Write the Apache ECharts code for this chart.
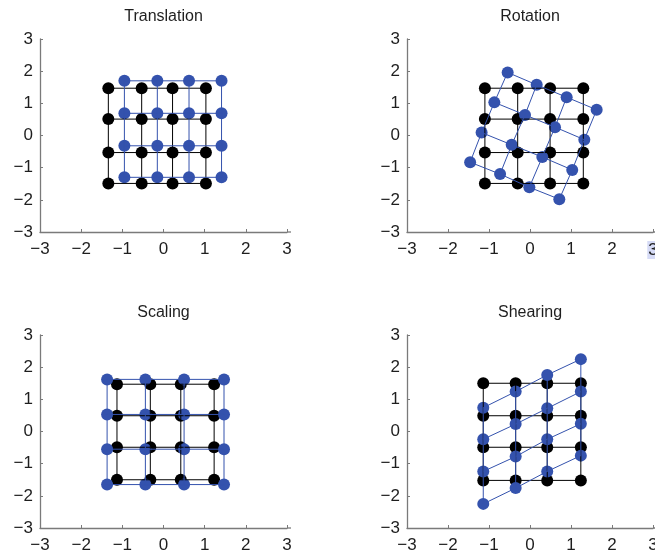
<!DOCTYPE html>
<html>
<head>
<meta charset="utf-8">
<title>2D transformations of a point grid</title>
<script src="https://cdn.jsdelivr.net/npm/echarts@6/dist/echarts.min.js"></script>
<style>
  html, body { margin: 0; padding: 0; background: #fff; }
  #chart { width: 655px; height: 556px; }
</style>
</head>
<body>
<div id="chart"></div>
<script>
// Panel titles
const titles = ['Translation', 'Rotation', 'Scaling', 'Shearing'];

// Axis tick values shared by every panel
const tickValues = [-3, -2, -1, 0, 1, 2, 3];

// Original 4x4 grid of each panel (column x values, row y values)
const transBlackX = [-1.34, -0.53, 0.22, 1.03];
const transBlackY = [1.47, 0.51, -0.53, -1.49];
const rotBlackX = [-1.10, -0.30, 0.49, 1.30];
const rotBlackY = [1.47, 0.51, -0.53, -1.49];
const scaleBlackX = [-1.13, -0.32, 0.42, 1.23];
const scaleBlackY = [1.47, 0.49, -0.49, -1.50];
const shearBlackX = [-1.14, -0.35, 0.42, 1.24];
const shearBlackY = [1.50, 0.49, -0.49, -1.52];

// Transformed grids, one row of [x, y] points per line
const transBlue = [
  [[-0.95, 1.70], [-0.15, 1.70], [0.62, 1.70], [1.41, 1.70]],
  [[-0.95, 0.69], [-0.15, 0.69], [0.62, 0.69], [1.41, 0.69]],
  [[-0.95, -0.32], [-0.15, -0.32], [0.62, -0.32], [1.41, -0.32]],
  [[-0.95, -1.30], [-0.15, -1.30], [0.62, -1.30], [1.41, -1.30]]
];
const rotBlue = [
  [[-0.545, 1.96], [0.163, 1.575], [0.894, 1.19], [1.626, 0.80]],
  [[-0.87, 1.03], [-0.122, 0.64], [0.61, 0.26], [1.325, -0.13]],
  [[-1.18, 0.09], [-0.447, -0.29], [0.30, -0.67], [1.03, -1.07]],
  [[-1.46, -0.83], [-0.73, -1.20], [-0.016, -1.61], [0.715, -1.98]]
];
const scaleBlue = [
  [[-1.37, 1.62], [-0.44, 1.62], [0.50, 1.62], [1.47, 1.62]],
  [[-1.37, 0.53], [-0.44, 0.53], [0.50, 0.53], [1.47, 0.53]],
  [[-1.37, -0.55], [-0.44, -0.55], [0.50, -0.55], [1.47, -0.55]],
  [[-1.37, -1.65], [-0.44, -1.65], [0.50, -1.65], [1.47, -1.65]]
];
const shearBlue = [
  [[-1.14, 0.74], [-0.35, 1.24], [0.42, 1.76], [1.24, 2.25]],
  [[-1.14, -0.24], [-0.35, 0.23], [0.42, 0.72], [1.24, 1.24]],
  [[-1.14, -1.24], [-0.35, -0.78], [0.42, -0.24], [1.24, 0.24]],
  [[-1.14, -2.25], [-0.35, -1.76], [0.42, -1.24], [1.24, -0.75]]
];

const blackGrids = [
  [transBlackX, transBlackY],
  [rotBlackX, rotBlackY],
  [scaleBlackX, scaleBlackY],
  [shearBlackX, shearBlackY]
];
const blueGrids = [transBlue, rotBlue, scaleBlue, shearBlue];

// Plot rectangles (px) for the 2x2 layout
const layout = [
  { left: 40, top: 39, width: 247, height: 193 },
  { left: 407, top: 39, width: 246, height: 193 },
  { left: 40, top: 335, width: 247, height: 193 },
  { left: 407, top: 335, width: 246, height: 193 }
];

const FONT = '"Liberation Sans", Arial, Helvetica, sans-serif';
const BLACK = '#000000';
const BLUE = '#3452ad';
const AXIS = '#7a7a7a';

function fmt(v) {
  return v < 0 ? '\u2212' + Math.abs(v) : String(v);
}

function meshFromAxes(xs, ys) {
  return ys.map(y => xs.map(x => [x, y]));
}

function columns(rows) {
  return rows[0].map((_, j) => rows.map(r => r[j]));
}

const grid = [], xAxis = [], yAxis = [], series = [], graphic = [];

layout.forEach((box, i) => {
  grid.push(Object.assign({ containLabel: false, outerBoundsMode: 'none' }, box));
  const highlightLast = i === 1;
  xAxis.push({
    type: 'value', gridIndex: i, min: tickValues[0], max: tickValues[tickValues.length - 1], interval: 1,
    splitLine: { show: false },
    axisLine: { show: true, onZero: false, lineStyle: { color: AXIS, width: 1.3 } },
    axisTick: { show: true, inside: true, length: 3, lineStyle: { color: AXIS } },
    axisLabel: {
      margin: 9, color: '#1e1e1e', fontSize: 17, fontFamily: FONT,
      formatter: v => (highlightLast && v === 3) ? '{hl|' + fmt(v) + '}' : fmt(v),
      rich: { hl: { backgroundColor: '#d6dbf6', fontSize: 17, fontFamily: FONT, color: '#1e1e1e', padding: [1, 1, 0, 1] } }
    }
  });
  yAxis.push({
    type: 'value', gridIndex: i, min: tickValues[0], max: tickValues[tickValues.length - 1], interval: 1,
    splitLine: { show: false },
    axisLine: { show: true, onZero: false, lineStyle: { color: AXIS, width: 1.3 } },
    axisTick: { show: true, inside: true, length: 3, lineStyle: { color: AXIS } },
    axisLabel: { margin: 7, color: '#1e1e1e', fontSize: 17, fontFamily: FONT, formatter: fmt }
  });

  const black = meshFromAxes(blackGrids[i][0], blackGrids[i][1]);
  const blue = blueGrids[i];

  const addLines = (mesh, color) => {
    mesh.concat(columns(mesh)).forEach(path => {
      series.push({
        type: 'line', xAxisIndex: i, yAxisIndex: i, data: path,
        showSymbol: false, silent: true, animation: false,
        lineStyle: { color: color, width: 1 }
      });
    });
  };
  const addDots = (mesh, color) => {
    series.push({
      type: 'scatter', xAxisIndex: i, yAxisIndex: i,
      data: [].concat(...mesh), symbolSize: 12, silent: true, animation: false,
      itemStyle: { color: color, opacity: 1 }
    });
  };

  addLines(black, BLACK);
  addDots(black, BLACK);
  addLines(blue, BLUE);
  addDots(blue, BLUE);

  // Short overshoot of the x axis line past its last tick
  const bottom = box.top + box.height;
  graphic.push({
    type: 'line', silent: true,
    shape: { x1: box.left + box.width, y1: bottom, x2: box.left + box.width + 4, y2: bottom },
    style: { stroke: AXIS, lineWidth: 1.3 }
  });

  graphic.push({
    type: 'text',
    x: box.left + box.width / 2, y: box.top - 22,
    style: { text: titles[i], font: '16px ' + FONT, fill: '#1e1e1e', textAlign: 'center', textVerticalAlign: 'middle' }
  });
});

const chart = echarts.init(document.getElementById('chart'), null, { renderer: 'canvas' });
chart.setOption({
  backgroundColor: '#ffffff',
  animation: false,
  grid, xAxis, yAxis, series, graphic
});
</script>
</body>
</html>
